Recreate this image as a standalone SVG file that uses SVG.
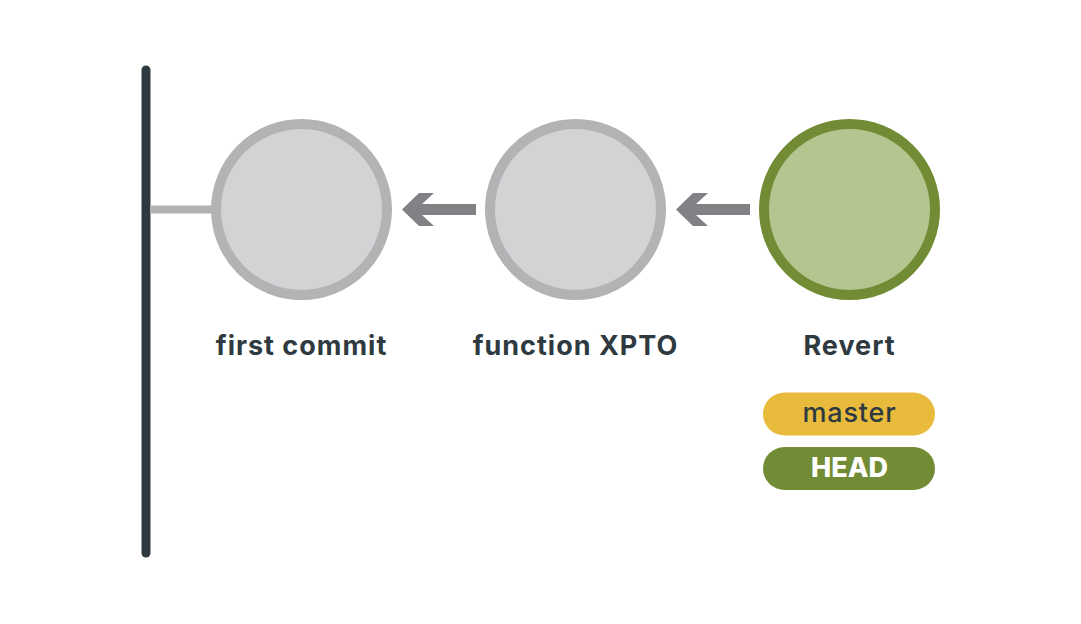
<svg xmlns="http://www.w3.org/2000/svg" width="1081" height="624" viewBox="0 0 1081 624">
<style>
.commit{fill:#d2d3d5;stroke:#b1b3b5;stroke-width:10}
.head{fill:#b5c58f;stroke:#718c35;stroke-width:10}
.lbl{font-family:Inter,"Liberation Sans",sans-serif;font-weight:700;font-size:27px;letter-spacing:1px;fill:#2e3a3f;text-anchor:middle}
.arrow{fill:#808285}
</style>
<rect width="1081" height="624" fill="#ffffff"/>
<g id="timeline">
<line x1="146" y1="70" x2="146" y2="553" stroke="#2e3a3f" stroke-width="9" stroke-linecap="round"/>
</g>
<g id="connectors">
<line x1="150" y1="209.5" x2="214" y2="209.5" stroke="#b1b3b5" stroke-width="8"/>
<polygon class="arrow" points="402,209.5 419,193 434,193 422,204 476,204 476,215 422,215 434,226 419,226"/>
<polygon class="arrow" points="676,209.5 693,193 708,193 696,204 750,204 750,215 696,215 708,226 693,226"/>
</g>
<g id="node-first-commit">
<circle class="commit" cx="301.5" cy="209.5" r="85.5"/>
<text class="lbl" x="301.5" y="355">first commit</text>
</g>
<g id="node-function-xpto">
<circle class="commit" cx="575.5" cy="209.5" r="85.5"/>
<text class="lbl" x="575.5" y="355">function XPTO</text>
</g>
<g id="node-revert">
<circle class="head" cx="849.5" cy="209.5" r="85.5"/>
<text class="lbl" x="849.5" y="355">Revert</text>
</g>
<g id="branch-master">
<rect x="763" y="392.5" width="172" height="43" rx="21.5" fill="#e8bb3c"/>
<text x="849.5" y="422" font-family="Inter,'Liberation Sans',sans-serif" font-size="27" font-weight="500" letter-spacing="0.8" fill="#2e3a3f" text-anchor="middle">master</text>
</g>
<g id="branch-head">
<rect x="763" y="447" width="172" height="43" rx="21.5" fill="#718c35"/>
<text x="849.5" y="477" font-family="Inter,'Liberation Sans',sans-serif" font-size="27" font-weight="800" fill="#ffffff" text-anchor="middle">HEAD</text>
</g>
</svg>
